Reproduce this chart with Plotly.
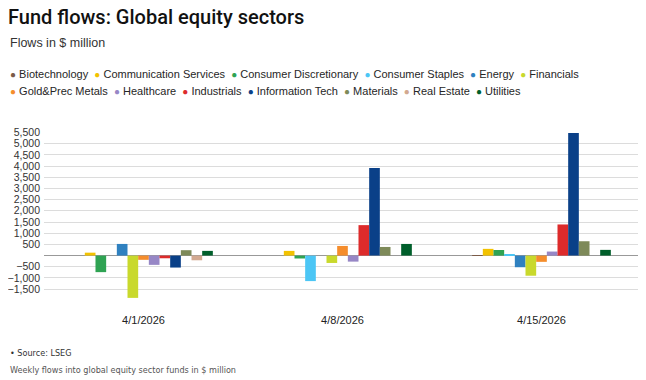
import plotly.graph_objects as go

dates = ["4/1/2026", "4/8/2026", "4/15/2026"]
sectors = ["Biotechnology", "Communication Services", "Consumer Discretionary",
           "Consumer Staples", "Energy", "Financials", "Gold&Prec Metals",
           "Healthcare", "Industrials", "Information Tech", "Materials",
           "Real Estate", "Utilities"]
colors = ["#7b5b48", "#f2c200", "#2fa353", "#4cc6f5", "#2f81c0", "#c9d92c",
          "#f58d2c", "#9787c6", "#dd2b2b", "#0a4088", "#7e8a59", "#d2a990",
          "#005f2b"]

biotech = [0, 0, 25]
comm_services = [130, 210, 300]
cons_disc = [-740, -130, 250]
cons_staples = [0, -1140, 60]
energy = [520, 0, -520]
financials = [-1890, -330, -900]
gold = [-190, 430, -280]
healthcare = [-415, -270, 180]
industrials = [-120, 1360, 1390]
info_tech = [-535, 3910, 5470]
materials = [240, 385, 640]
real_estate = [-210, 0, 0]
utilities = [210, 520, 255]

series = [biotech, comm_services, cons_disc, cons_staples, energy, financials,
          gold, healthcare, industrials, info_tech, materials, real_estate,
          utilities]

y_ticks = [-1500, -1000, -500, 500, 1000, 1500, 2000, 2500, 3000, 3500,
           4000, 4500, 5000, 5500]

# page body has an 8px margin: lay the figure out in reference pixels minus 8
O = 8
W, H = 646 - O, 380 - O
L, R = 44 - O, 5
TOP, BOT = 131.5 - O, 298.3 - O

fig = go.Figure()
for name, col, vals in zip(sectors, colors, series):
    fig.add_trace(go.Bar(x=dates, y=vals, name=name, marker_color=col,
                         marker_line_width=0, showlegend=False))


def px(x):
    return (max(x, O) - O - L) / (W - L - R)


def py(y):
    return (BOT - (y - O)) / (BOT - TOP)


FONT = "Liberation Sans, Arial, sans-serif"
TFONT = "Roboto, Liberation Sans, sans-serif"
CFONT = "DejaVu Sans Condensed, Liberation Sans Narrow, Roboto, sans-serif"
ann = []
ann.append(dict(text="Flows in $ million", x=px(8), y=py(42),
                font=dict(size=12.5, color="#333", family=FONT)))


def legend_row(idx):
    parts = []
    for i in idx:
        parts.append("<span style='color:%s;font-size:10px'>●</span> %s"
                     % (colors[i], sectors[i]))
    return "  ".join(parts)


ann.append(dict(text=legend_row(range(0, 6)), x=px(8), y=py(73),
                font=dict(size=11, color="#262626", family=FONT)))
ann.append(dict(text=legend_row(range(6, 13)), x=px(8), y=py(90),
                font=dict(size=11, color="#262626", family=FONT)))

ann.append(dict(text="• Source: LSEG", x=px(8), y=py(354),
                font=dict(size=9, color="#333", family=CFONT)))
ann.append(dict(text="Weekly flows into global equity sector funds in $ million",
                x=px(8), y=py(371),
                font=dict(size=9, color="#555", family=CFONT)))

for a in ann:
    a.setdefault("xanchor", "left")
    a.update(xref="paper", yref="paper", yanchor="middle", showarrow=False)

fig.update_layout(
    width=W, height=H,
    margin=dict(l=L, r=R, t=TOP, b=H - BOT, pad=0),
    paper_bgcolor="white", plot_bgcolor="white",
    title=dict(text="Fund flows: Global equity sectors",
               x=0, xanchor="left", xref="container",
               y=1 - (17 - O) / H, yanchor="middle", yref="container",
               pad=dict(l=0, r=0, t=0, b=0),
               font=dict(size=20, color="#111", family=TFONT, weight=500)),
    barmode="group", bargap=0.303, bargroupgap=0,
    annotations=ann,
    xaxis=dict(showgrid=False, zeroline=False, showline=False, ticks="",
               tickfont=dict(size=11, color="#222", family=FONT),
               ticklabelstandoff=14, automargin=False),
    yaxis=dict(range=[-1895, 5520], tickvals=y_ticks, tickformat=",",
               showgrid=True, gridcolor="#dcdcdc", gridwidth=1,
               zeroline=True, zerolinecolor="#999", zerolinewidth=1.2,
               tickfont=dict(size=10.5, color="#333", family=FONT),
               ticks="", ticklabelstandoff=3, automargin=False),
    font=dict(family=FONT),
)

fig.write_html("out.html")
